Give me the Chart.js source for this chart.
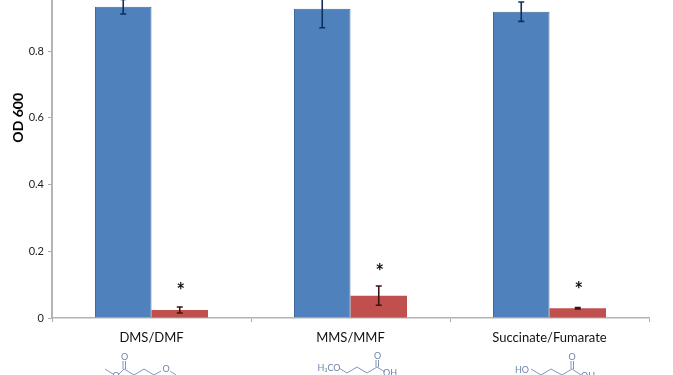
<!DOCTYPE html>
<html>
<head>
<meta charset="utf-8">
<style>
html, body { margin: 0; padding: 0; background: #fff; overflow: hidden; width: 673px; height: 375px; }
#wrap { position: absolute; left: 0; top: -93px; width: 673px; height: 468px; }
</style>
<script src="https://cdn.jsdelivr.net/npm/chart.js@4"></script>
</head>
<body>
<div id="wrap"><canvas id="chart" width="673" height="468"></canvas></div>
<script>
const categories = ['DMS/DMF', 'MMS/MMF', 'Succinate/Fumarate'];
const blueValues = [0.933, 0.927, 0.918];
const redValues = [0.024, 0.067, 0.029];
const blueErrors = [0.022, 0.057, 0.029];
const redErrors = [0.009, 0.029, 0.002];
const starValues = [0.092, 0.149, 0.095];

// page offset of the canvas, the top of the original figure is cropped
const pageTop = 93;

// little structure drawings under the category labels, in page pixels
const moleculeLines = [
    [[105, 369], [113, 374]], [[119, 374], [124, 369], [134, 375], [144, 369], [154, 375], [161, 371]], [[170, 371], [176, 375]],
    [[123, 369], [123, 361]], [[125.5, 369], [125.5, 361]],
    [[339, 368], [347, 373], [357, 367], [367, 373], [377, 367], [385, 372]],
    [[376, 367], [376, 360]], [[378.5, 367], [378.5, 360]],
    [[531, 369], [541, 375], [551, 369], [562, 375], [572, 369], [581, 375]],
    [[571, 369], [571, 361]], [[573.5, 369], [573.5, 361]]
];
const moleculeLabels = [
    ['O', 124.5, 357], ['O', 116, 376], ['O', 166, 369],
    ['H\u2083CO', 329, 368], ['O', 377.5, 356], ['OH', 390, 373],
    ['HO', 522, 370], ['O', 572, 357], ['OH', 588, 376]
];

const errorBars = {
    id: 'errorBars',
    afterDatasetsDraw(chart) {
        const { ctx, scales: { y } } = chart;
        [blueErrors, redErrors].forEach((errs, d) => {
            const meta = chart.getDatasetMeta(d);
            const color = d === 0 ? '#0f2f5c' : '#3a1414';
            meta.data.forEach((bar, i) => {
                const val = chart.data.datasets[d].data[i];
                const top = y.getPixelForValue(val + errs[i]);
                const bot = y.getPixelForValue(val - errs[i]);
                ctx.save();
                ctx.strokeStyle = color;
                ctx.lineWidth = 1.6;
                ctx.beginPath();
                ctx.moveTo(bar.x - 3, top); ctx.lineTo(bar.x + 3, top);
                ctx.moveTo(bar.x, top); ctx.lineTo(bar.x, bot);
                ctx.moveTo(bar.x - 3, bot); ctx.lineTo(bar.x + 3, bot);
                ctx.stroke();
                ctx.restore();
            });
        });
        // significance stars above the red bars
        const redMeta = chart.getDatasetMeta(1);
        ctx.save();
        ctx.fillStyle = '#111';
        ctx.font = 'bold 20px Lato';
        ctx.textAlign = 'center';
        ctx.textBaseline = 'middle';
        redMeta.data.forEach((bar, i) => {
            ctx.fillText('*', bar.x + 1, y.getPixelForValue(starValues[i]) + 4);
        });
        ctx.restore();
    }
};

const molecules = {
    id: 'molecules',
    afterDraw(chart) {
        const ctx = chart.ctx;
        ctx.save();
        ctx.translate(0, pageTop);
        ctx.strokeStyle = '#8496b8';
        ctx.fillStyle = '#6f83aa';
        ctx.lineWidth = 1;
        moleculeLines.forEach(line => {
            ctx.beginPath();
            line.forEach(([px, py], i) => i ? ctx.lineTo(px, py) : ctx.moveTo(px, py));
            ctx.stroke();
        });
        ctx.font = '9px Lato';
        ctx.textAlign = 'center';
        ctx.textBaseline = 'middle';
        moleculeLabels.forEach(([text, px, py]) => ctx.fillText(text, px, py));
        ctx.restore();
    }
};

new Chart(document.getElementById('chart'), {
    type: 'bar',
    data: {
        labels: categories,
        datasets: [
            { data: blueValues, backgroundColor: '#4f81bd', borderColor: '#41699b', borderWidth: 1 },
            { data: redValues, backgroundColor: '#c0504d', borderColor: '#c0504d', borderWidth: 0 }
        ]
    },
    options: {
        responsive: false,
        animation: false,
        layout: { padding: { left: 10, right: 24, top: 0, bottom: 0 } },
        plugins: { legend: { display: false }, tooltip: { enabled: false } },
        datasets: { bar: { barPercentage: 1, categoryPercentage: 0.568 } },
        scales: {
            x: {
                offset: true,
                afterFit(s) { s.height = 57; },
                grid: { offset: true, drawOnChartArea: false, drawTicks: true, tickLength: 4, color: '#aaa' },
                border: { color: '#b4b4b4', width: 1.5 },
                ticks: { color: '#111', font: { family: 'Lato', size: 13 }, padding: 8, maxRotation: 0 }
            },
            y: {
                min: 0,
                max: 1.2,
                afterFit(s) { s.width = 42; },
                title: { display: true, text: 'OD 600', color: '#000', font: { family: 'Lato', size: 14, weight: 'bold' }, padding: { top: 0, bottom: 6 } },
                grid: { drawOnChartArea: false, tickLength: 4, color: '#aaa' },
                border: { color: '#b4b4b4', width: 2 },
                ticks: { stepSize: 0.2, color: '#222', font: { family: 'Lato', size: 11 }, padding: 4 }
            }
        }
    },
    plugins: [errorBars, molecules]
});
</script>
</body>
</html>
